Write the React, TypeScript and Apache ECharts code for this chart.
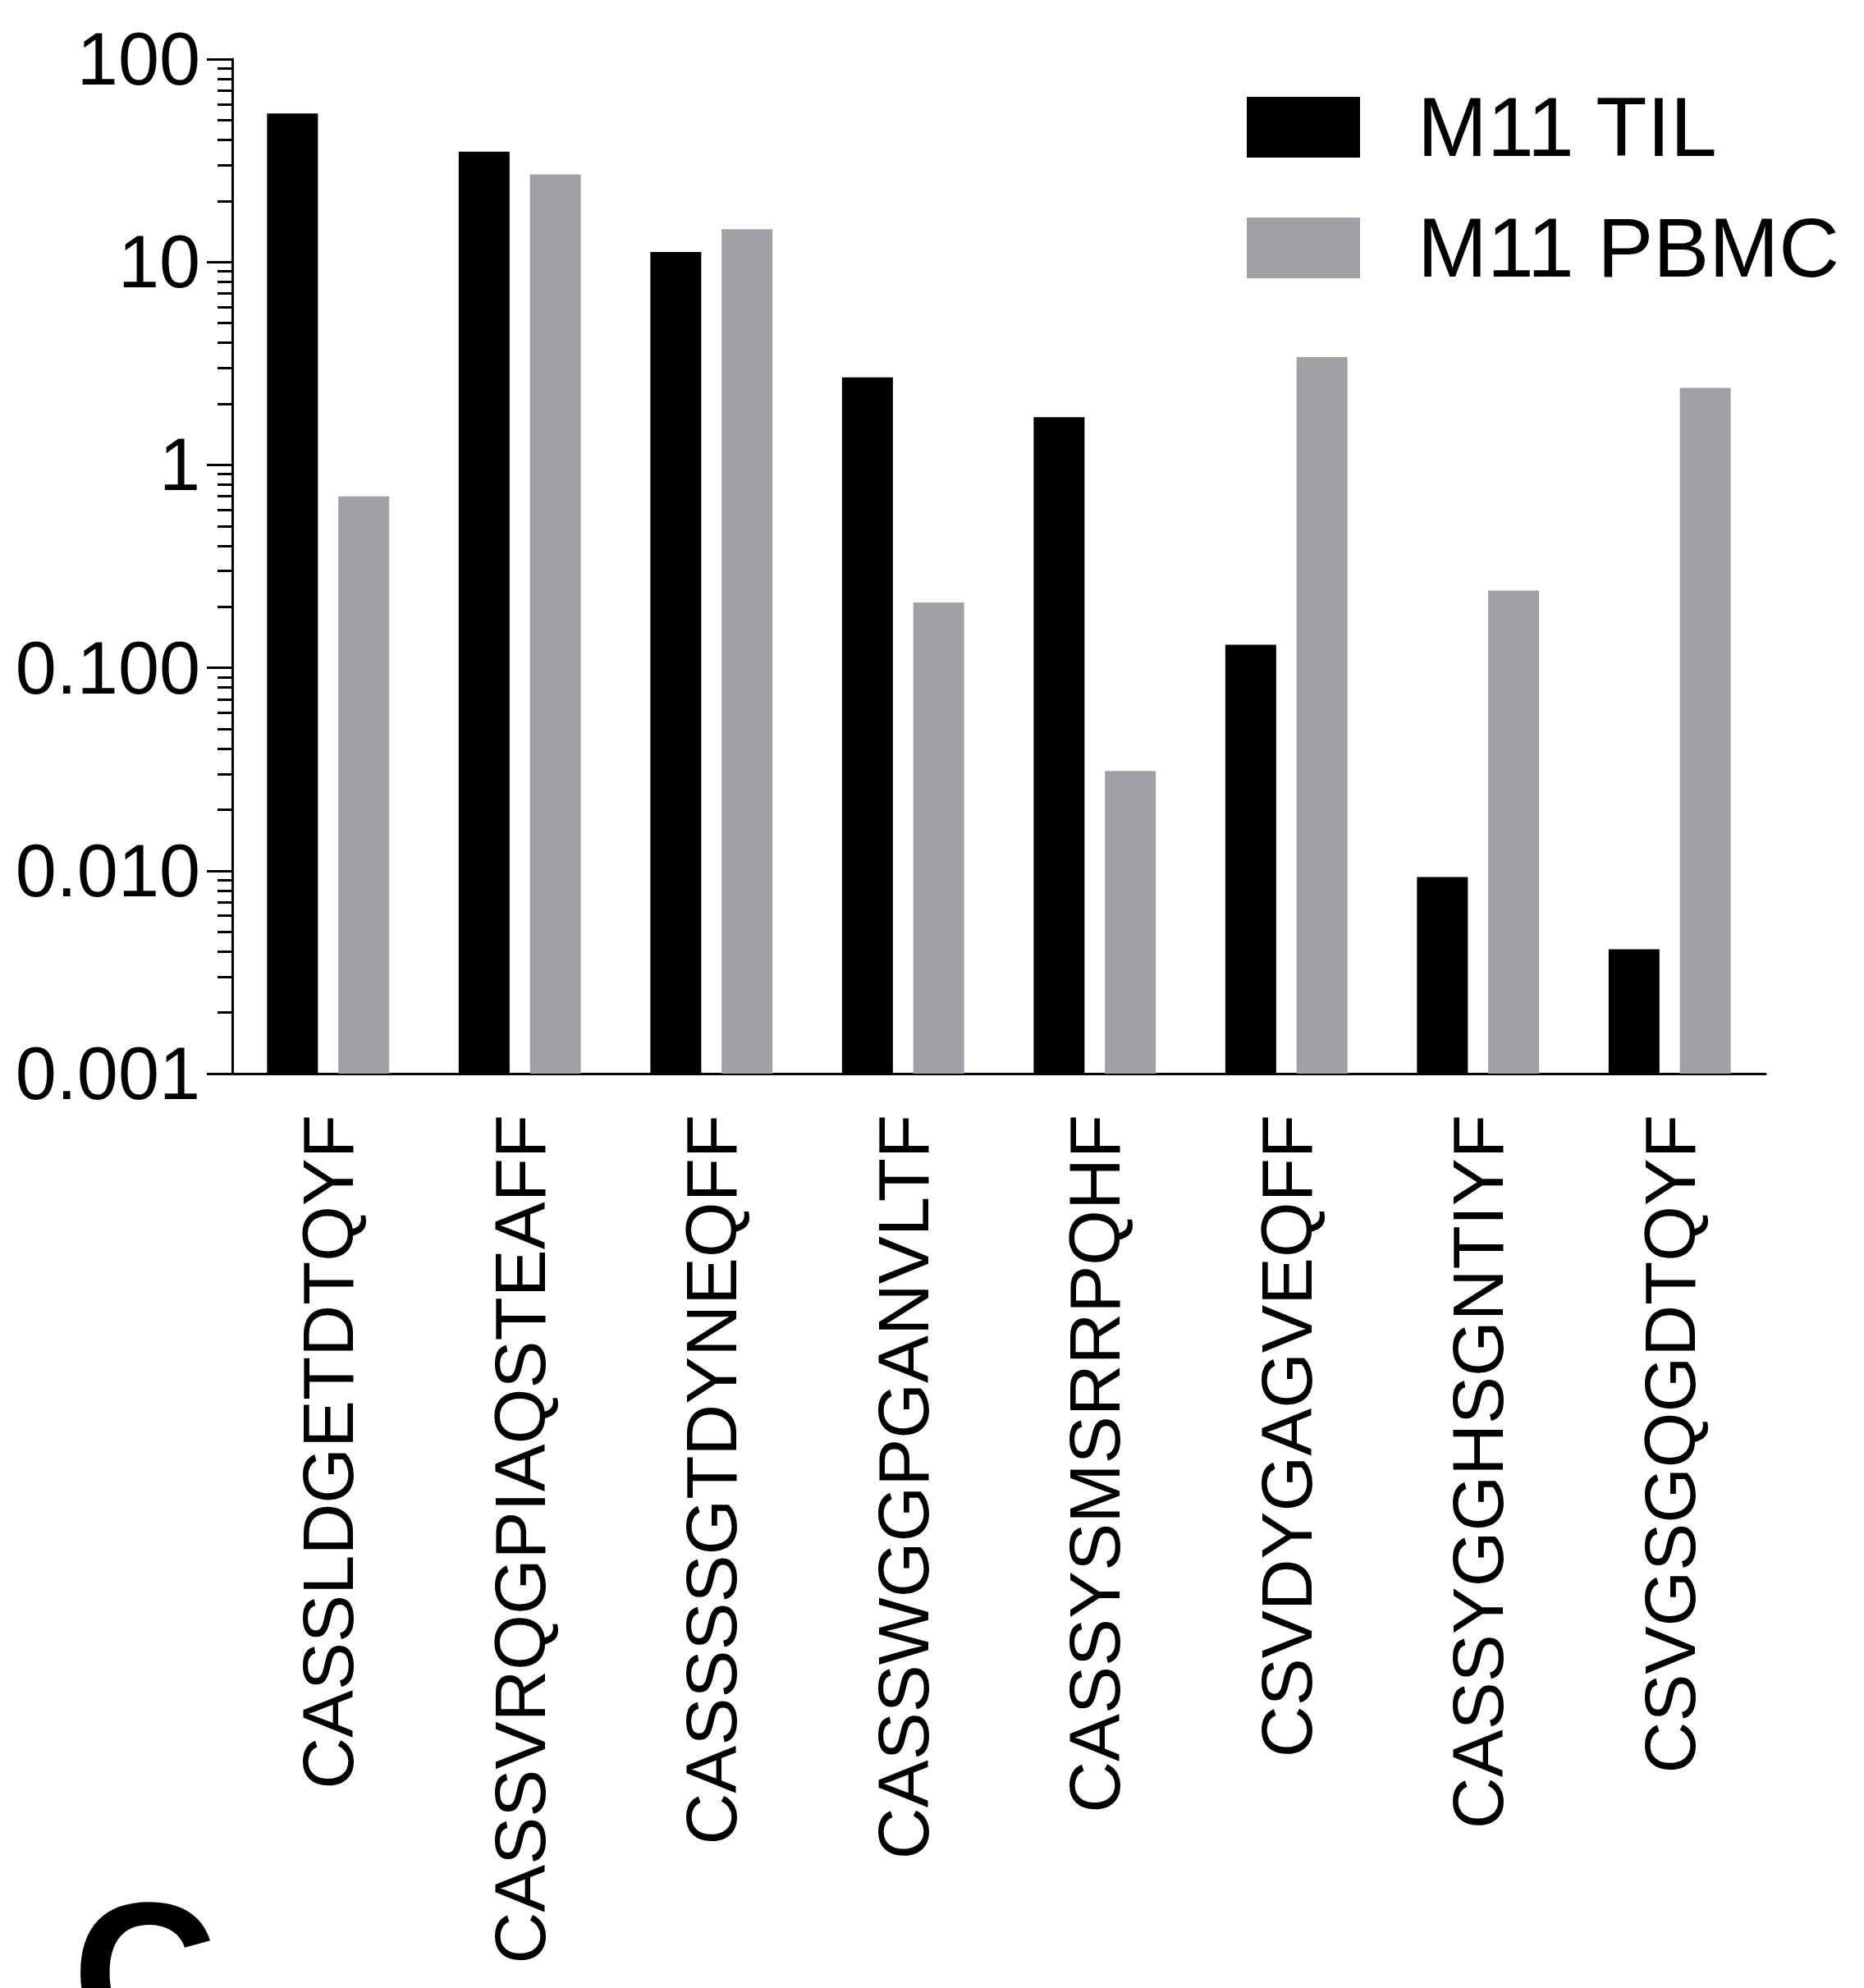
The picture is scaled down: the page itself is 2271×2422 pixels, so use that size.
import React, { useEffect, useRef } from "react";
import * as echarts from "echarts";

const categories = [
  "CASSLDGETDTQYF",
  "CASSVRQGPIAQSTEAFF",
  "CASSSSGTDYNEQFF",
  "CASSWGGPGANVLTF",
  "CASSYSMSRRPQHF",
  "CSVDYGAGVEQFF",
  "CASSYGGHSGNTIYF",
  "CSVGSGQGDTQYF",
];
const tilValues = [54, 35, 11.2, 2.7, 1.72, 0.13, 0.0093, 0.0041];
const pbmcValues = [0.7, 27, 14.5, 0.21, 0.031, 3.4, 0.24, 2.4];
const seriesNames = ["M11 TIL", "M11 PBMC"];
const yMin = 0.001;
const yMax = 100;
const minorTickValues = [
  0.002, 0.003, 0.004, 0.005, 0.006, 0.007, 0.008, 0.009,
  0.02, 0.03, 0.04, 0.05, 0.06, 0.07, 0.08, 0.09,
  0.2, 0.3, 0.4, 0.5, 0.6, 0.7, 0.8, 0.9,
  2, 3, 4, 5, 6, 7, 8, 9,
  20, 30, 40, 50, 60, 70, 80, 90,
];

const FONT = "Liberation Sans, Arial, Helvetica, sans-serif";

export default function App() {
  const ref = useRef<HTMLDivElement>(null);
  useEffect(() => {
    if (!ref.current) return;
    const chart = echarts.init(ref.current, null, { renderer: "svg" });
    chart.setOption({
      animation: false,
      backgroundColor: "#ffffff",
      legend: {
        orient: "vertical",
        left: 1519,
        top: 104,
        padding: 0,
        itemWidth: 138,
        itemHeight: 74,
        itemGap: 45,
        icon: "rect",
        data: seriesNames,
        textStyle: {
          fontFamily: FONT,
          fontSize: 102,
          color: "#000",
          lineHeight: 74,
          padding: [0, 0, 0, 65],
        },
      },
      grid: { left: 283, right: 120, top: 72, bottom: 1114, containLabel: false },
      xAxis: {
        type: "category",
        data: categories,
        axisLine: { lineStyle: { color: "#000", width: 3 } },
        axisTick: { alignWithLabel: true, length: 29, lineStyle: { color: "#000", width: 3 } },
        axisLabel: {
          rotate: 90,
          interval: 0,
          margin: 50,
          fontFamily: FONT,
          fontSize: 87,
          color: "#000",
        },
      },
      yAxis: [
        {
          type: "log",
          logBase: 10,
          min: yMin,
          max: yMax,
          startValue: yMin,
          splitNumber: 5,
          axisLine: { show: true, lineStyle: { color: "#000", width: 3 } },
          axisTick: { show: true, length: 31, lineStyle: { color: "#000", width: 3 } },
          splitLine: { show: false },
          axisLabel: {
            margin: 39,
            fontFamily: FONT,
            fontSize: 90,
            color: "#000",
            formatter: (v: number) => (v >= 1 ? String(Math.round(v)) : v.toFixed(3)),
          },
        },
        {
          type: "log",
          logBase: 10,
          min: yMin,
          max: yMax,
          position: "left",
          axisLine: { show: false },
          splitLine: { show: false },
          axisLabel: { show: false },
          axisTick: {
            show: true,
            length: 18,
            customValues: minorTickValues,
            lineStyle: { color: "#000", width: 3 },
          },
        },
      ],
      series: [
        {
          name: seriesNames[0],
          type: "bar",
          data: tilValues,
          barWidth: 62,
          barGap: "40%",
          itemStyle: { color: "#000000" },
        },
        {
          name: seriesNames[1],
          type: "bar",
          data: pbmcValues,
          barWidth: 62,
          barGap: "40%",
          itemStyle: { color: "#a1a1a5" },
        },
      ],
      graphic: [
        {
          type: "text",
          left: 88,
          top: 2281,
          style: {
            text: "C",
            font: "bold 245px " + FONT,
            fill: "#000",
          },
        },
      ],
    });
    return () => chart.dispose();
  }, []);
  return (
    <div
      ref={ref}
      style={{ position: "fixed", left: 0, top: 0, width: 2271, height: 2422 }}
    />
  );
}
